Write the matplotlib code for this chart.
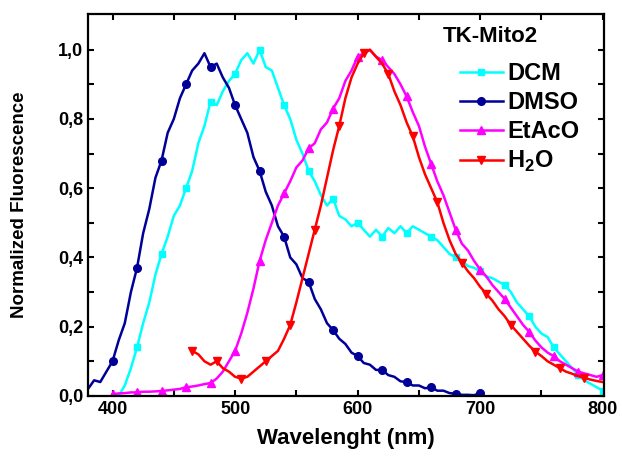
import numpy as np
import matplotlib
matplotlib.use('Agg')
import matplotlib.pyplot as plt

plt.rcParams['font.family'] = ['Liberation Sans', 'DejaVu Sans']
plt.rcParams['font.weight'] = 'bold'
plt.rcParams['mathtext.fontset'] = 'custom'
plt.rcParams['mathtext.bf'] = 'Liberation Sans:bold'
plt.rcParams['mathtext.rm'] = 'Liberation Sans:bold'

# wavelength grids (nm), 5 nm step
wl_dmso = np.arange(380, 701, 5)
wl_dcm = np.arange(405, 801, 5)
wl_etaco = np.arange(400, 801, 5)
wl_h2o = np.arange(465, 801, 5)

dmso = [0.02, 0.045, 0.04, 0.07, 0.10, 0.16, 0.21, 0.30, 0.37, 0.47,
        0.54, 0.63, 0.68, 0.76, 0.80, 0.86, 0.90, 0.94, 0.96, 0.99,
        0.95, 0.96, 0.92, 0.89, 0.84, 0.80, 0.76, 0.69, 0.65, 0.59,
        0.55, 0.49, 0.46, 0.40, 0.38, 0.34, 0.33, 0.28, 0.25, 0.21,
        0.19, 0.165, 0.15, 0.125, 0.115, 0.095, 0.09, 0.075, 0.075, 0.06,
        0.055, 0.042, 0.04, 0.03, 0.03, 0.022, 0.025, 0.015, 0.015, 0.008,
        0.006, 0.003, 0.003, 0.002, 0.008]

dcm = [0.0, 0.03, 0.08, 0.14, 0.21, 0.27, 0.35, 0.41, 0.46, 0.52,
       0.55, 0.60, 0.65, 0.73, 0.78, 0.85, 0.84, 0.88, 0.91, 0.93,
       0.97, 0.99, 0.96, 1.0, 0.95, 0.94, 0.89, 0.84, 0.80, 0.74,
       0.70, 0.65, 0.62, 0.58, 0.55, 0.57, 0.52, 0.51, 0.49, 0.50,
       0.48, 0.46, 0.48, 0.46, 0.485, 0.47, 0.49, 0.47, 0.49, 0.48,
       0.47, 0.46, 0.45, 0.43, 0.41, 0.40, 0.39, 0.375, 0.37, 0.36,
       0.345, 0.34, 0.33, 0.32, 0.30, 0.27, 0.25, 0.23, 0.20, 0.18,
       0.17, 0.14, 0.12, 0.10, 0.08, 0.06, 0.045, 0.035, 0.025, 0.015]

etaco = [0.005, 0.007, 0.008, 0.01, 0.01, 0.012, 0.012, 0.013, 0.014, 0.016,
         0.018, 0.02, 0.025, 0.027, 0.03, 0.034, 0.037, 0.05, 0.07, 0.10,
         0.13, 0.18, 0.24, 0.31, 0.39, 0.45, 0.50, 0.55, 0.585, 0.62,
         0.66, 0.68, 0.715, 0.73, 0.77, 0.79, 0.83, 0.86, 0.91, 0.94,
         0.98, 0.99, 1.0, 0.98, 0.97, 0.95, 0.93, 0.90, 0.865, 0.82,
         0.78, 0.72, 0.67, 0.62, 0.58, 0.53, 0.48, 0.44, 0.42, 0.39,
         0.365, 0.345, 0.32, 0.30, 0.28, 0.255, 0.23, 0.205, 0.185, 0.16,
         0.14, 0.125, 0.115, 0.10, 0.09, 0.08, 0.07, 0.065, 0.06, 0.055,
         0.06]

h2o = [0.13, 0.12, 0.10, 0.09, 0.10, 0.08, 0.07, 0.055, 0.05, 0.055,
       0.07, 0.085, 0.10, 0.115, 0.13, 0.165, 0.205, 0.27, 0.34, 0.41,
       0.48, 0.55, 0.63, 0.71, 0.78, 0.86, 0.92, 0.96, 0.99, 1.0,
       0.98, 0.96, 0.93, 0.88, 0.84, 0.79, 0.75, 0.69, 0.64, 0.60,
       0.56, 0.50, 0.45, 0.41, 0.385, 0.36, 0.34, 0.315, 0.295, 0.275,
       0.25, 0.23, 0.205, 0.185, 0.165, 0.145, 0.128, 0.115, 0.10, 0.09,
       0.08, 0.07, 0.064, 0.057, 0.052, 0.047, 0.043, 0.04]

fig = plt.figure(figsize=(6.22, 4.63), dpi=100)
ax = fig.add_axes([0.1415, 0.145, 0.8295, 0.8245])

ax.plot(wl_dcm, dcm, color='#00FFFF', lw=1.8, marker='s', ms=5, markevery=(3, 4), label='DCM')
ax.plot(wl_dmso, dmso, color='#000099', lw=1.8, marker='o', ms=5.5, markevery=(4, 4), label='DMSO')
ax.plot(wl_etaco, etaco, color='#FF00FF', lw=1.8, marker='^', ms=6, markevery=(0, 4), label='EtAcO')
ax.plot(wl_h2o, h2o, color='#FF0000', lw=1.8, marker='v', ms=6, markevery=(0, 4), label=r'H$_\mathbf{2}$O')

ax.set_xlim(380, 801)
ax.set_ylim(0, 1.103)
ax.set_xticks([400, 500, 600, 700, 800])
ax.set_xticks([450, 550, 650, 750], minor=True)
ax.set_yticks([0, 0.2, 0.4, 0.6, 0.8, 1.0])
ax.set_yticklabels(['0,0', '0,2', '0,4', '0,6', '0,8', '1,0'])
ax.set_yticks([0.1, 0.3, 0.5, 0.7, 0.9], minor=True)
ax.tick_params(which='both', direction='in', top=True, right=True, width=1.5, length=4, labelsize=13)
ax.tick_params(which='both', labelright=False, labeltop=False)
for s in ax.spines.values():
    s.set_linewidth(1.6)

ax.set_xlabel('Wavelenght (nm)', fontsize=16, fontweight='bold')
ax.xaxis.set_label_coords(0.5, -0.083)
ax.set_ylabel('Normalized Fluorescence', fontsize=13.5, fontweight='bold')
ax.yaxis.set_label_coords(-0.116, 0.5)

ax.text(0.688, 0.942, 'TK-Mito2', transform=ax.transAxes, fontsize=16, fontweight='bold', va='center')
ax.legend(loc='upper left', bbox_to_anchor=(0.721, 0.874), frameon=False,
          prop={'size': 17, 'weight': 'bold'}, handlelength=1.8, handletextpad=0.2,
          labelspacing=0.25, borderaxespad=0, borderpad=0)

fig.savefig('out.png', dpi=100)
